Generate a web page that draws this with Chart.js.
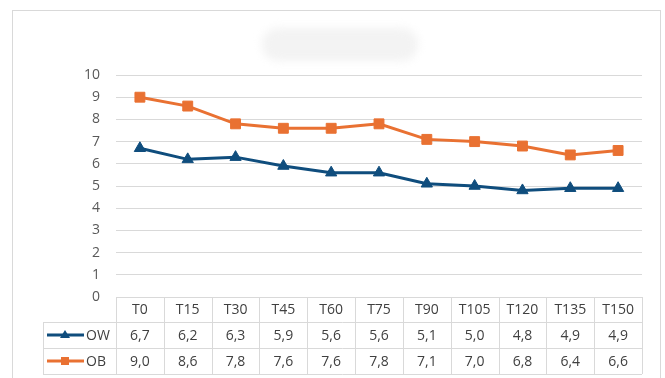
<!DOCTYPE html>
<html>
<head>
<meta charset="utf-8">
<script src="https://cdn.jsdelivr.net/npm/chart.js@4/dist/chart.umd.min.js"></script>
<style>
  html, body { margin: 0; padding: 0; background: #ffffff; }
  #wrap { width: 665px; height: 378px; position: relative; }
</style>
</head>
<body>
<div id="wrap"><canvas id="chart" width="665" height="378"></canvas></div>
<script>
// Sampling times and measured series
const categories = ['T0', 'T15', 'T30', 'T45', 'T60', 'T75', 'T90', 'T105', 'T120', 'T135', 'T150'];
const owValues = [6.7, 6.2, 6.3, 5.9, 5.6, 5.6, 5.1, 5.0, 4.8, 4.9, 4.9];
const obValues = [9.0, 8.6, 7.8, 7.6, 7.6, 7.8, 7.1, 7.0, 6.8, 6.4, 6.6];
const yTicks = [0, 1, 2, 3, 4, 5, 6, 7, 8, 9, 10];

const OW_COLOR = '#0f4d7d';
const OB_COLOR = '#e97132';
const GRID = '#d9d9d9';
const TEXT = '#404040';
const FONT = '"Open Sans", "Noto Sans", sans-serif';

const fmt = v => v.toFixed(1).replace('.', ',');

// Frame and softened title placeholder
const framePlugin = {
  id: 'frame',
  beforeDraw(chart) {
    const ctx = chart.ctx;
    ctx.save();
    ctx.fillStyle = '#ffffff';
    ctx.fillRect(0, 0, chart.width, chart.height);
    ctx.strokeStyle = GRID;
    ctx.lineWidth = 1;
    ctx.strokeRect(12.5, 10.5, 648, 380);
    ctx.filter = 'blur(4px)';
    ctx.fillStyle = '#f3f3f3';
    ctx.beginPath();
    ctx.roundRect(262, 28, 156, 33, 16);
    ctx.fill();
    ctx.restore();
  }
};

// Data table under the plot, aligned to the category scale
const tablePlugin = {
  id: 'dataTable',
  afterDraw(chart) {
    const ctx = chart.ctx;
    const xs = chart.scales.x;
    const area = chart.chartArea;
    const n = categories.length;
    const centers = categories.map((_, i) => xs.getPixelForValue(i));
    const edges = [area.left];
    for (let i = 0; i < n - 1; i++) edges.push((centers[i] + centers[i + 1]) / 2);
    edges.push(area.right);

    const top = area.bottom;
    const rowH = [25, 26, 26];
    const r1 = top + rowH[0];
    const r2 = r1 + rowH[1];
    const r3 = r2 + rowH[2];
    const legendLeft = 43;

    ctx.save();
    ctx.strokeStyle = GRID;
    ctx.lineWidth = 1;
    const hline = (x0, x1, y) => { ctx.beginPath(); ctx.moveTo(x0, Math.round(y) + 0.5); ctx.lineTo(x1, Math.round(y) + 0.5); ctx.stroke(); };
    const vline = (x, y0, y1) => { ctx.beginPath(); ctx.moveTo(Math.round(x) + 0.5, y0); ctx.lineTo(Math.round(x) + 0.5, y1); ctx.stroke(); };

    hline(area.left, area.right, top);
    hline(legendLeft, area.right, r1);
    hline(legendLeft, area.right, r2);
    hline(legendLeft, area.right, r3);
    edges.forEach(x => vline(x, top, r3));
    vline(legendLeft, r1, r3);

    ctx.fillStyle = TEXT;
    ctx.font = '14px ' + FONT;
    ctx.textAlign = 'center';
    ctx.textBaseline = 'middle';
    categories.forEach((c, i) => ctx.fillText(c, centers[i], (top + r1) / 2 + 1));
    owValues.forEach((v, i) => ctx.fillText(fmt(v), centers[i], (r1 + r2) / 2 + 1));
    obValues.forEach((v, i) => ctx.fillText(fmt(v), centers[i], (r2 + r3) / 2 + 1));

    // Legend keys inside the table
    const keys = [
      { label: 'OW', color: OW_COLOR, style: 'triangle', y: (r1 + r2) / 2 },
      { label: 'OB', color: OB_COLOR, style: 'rect', y: (r2 + r3) / 2 }
    ];
    keys.forEach(k => {
      ctx.strokeStyle = k.color;
      ctx.lineWidth = 3;
      ctx.beginPath();
      ctx.moveTo(47, k.y);
      ctx.lineTo(84, k.y);
      ctx.stroke();
      ctx.fillStyle = k.color;
      ctx.beginPath();
      if (k.style === 'triangle') {
        ctx.moveTo(65, k.y - 5);
        ctx.lineTo(70, k.y + 3);
        ctx.lineTo(60, k.y + 3);
        ctx.closePath();
      } else {
        ctx.rect(61, k.y - 4, 8, 8);
      }
      ctx.fill();
      ctx.fillStyle = TEXT;
      ctx.textAlign = 'left';
      ctx.fillText(k.label, 86, k.y + 1);
    });
    ctx.restore();
  }
};

new Chart(document.getElementById('chart'), {
  type: 'line',
  data: {
    labels: categories,
    datasets: [
      {
        label: 'OW',
        data: owValues,
        borderColor: OW_COLOR,
        backgroundColor: OW_COLOR,
        borderWidth: 3,
        pointStyle: 'triangle',
        pointRadius: 6.5,
        pointBorderWidth: 1,
        tension: 0
      },
      {
        label: 'OB',
        data: obValues,
        borderColor: OB_COLOR,
        backgroundColor: OB_COLOR,
        borderWidth: 3,
        pointStyle: 'rect',
        pointRadius: 7,
        pointBorderWidth: 1,
        tension: 0
      }
    ]
  },
  options: {
    responsive: false,
    animation: false,
    layout: { padding: { left: 0, right: 23, top: 75, bottom: 81 } },
    plugins: { legend: { display: false }, tooltip: { enabled: false }, title: { display: false } },
    scales: {
      x: {
        type: 'category',
        offset: true,
        grid: { display: false, drawTicks: false },
        border: { display: false },
        ticks: { display: false },
        afterFit(scale) { scale.height = 0; }
      },
      y: {
        min: 0,
        max: 10,
        afterBuildTicks(scale) { scale.ticks = yTicks.map(v => ({ value: v })); },
        grid: { color: GRID, lineWidth: 1, drawTicks: false },
        border: { display: false },
        ticks: {
          color: '#595959',
          padding: 16,
          font: { family: FONT, size: 14 }
        },
        afterFit(scale) { scale.width = 116; }
      }
    }
  },
  plugins: [framePlugin, tablePlugin]
});
</script>
</body>
</html>
